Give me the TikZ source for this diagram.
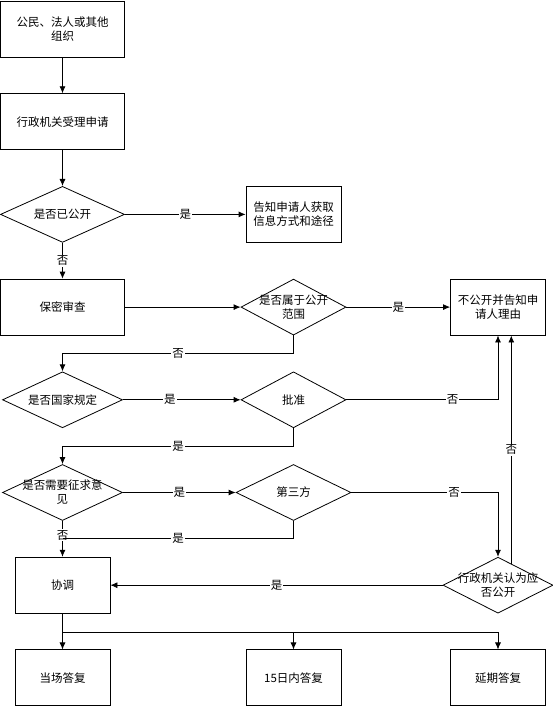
\documentclass[tikz,border=0pt]{standalone}
\usepackage{fontspec}
\newfontfamily\cjk{Noto Sans CJK SC}
\usetikzlibrary{positioning,shapes.geometric,calc,arrows.meta}

\tikzset{
  stepbox/.style={rectangle, draw, minimum width=124pt, minimum height=56pt, align=center},
  smallbox/.style={stepbox, minimum width=95pt},
  decision/.style={diamond, draw, inner sep=0pt, minimum width=#1, minimum height=56pt},
  decision/.default=105pt,
  lbl/.style={fill=white, inner sep=1pt},
  flow/.style={-{Latex[length=7pt,width=6pt]}},
}

\begin{document}
\begin{tikzpicture}[x=1pt, y=1pt, node distance=92.7pt, line width=0.8pt,
  every node/.style={font=\cjk\fontsize{11.5pt}{14pt}\selectfont}]
\useasboundingbox (0,0) rectangle (553,707);

\node (src) [stepbox] at (62.5,678) {公民、法人或其他\\组织};
\node (acc) [stepbox, below of=src] {行政机关受理申请};
\node (open) [decision=124pt, below of=acc, label={[align=center]center:是否已公开}] {};
\node (tell) [smallbox, node distance=231pt, right of=open] {告知申请人获取\\信息方式和途径};

\node (secret) [stepbox, below of=open] {保密审查};
\node (scope) [decision, node distance=231pt, right of=secret, label={[align=center]center:是否属于公开\\范围}] {};
\node (deny) [smallbox, node distance=204.5pt, right of=scope] {不公开并告知申\\请人理由};

\node (state) [decision=120pt, below of=secret, label={[align=center]center:是否国家规定}] {};
\node (approve) [decision, node distance=231pt, right of=state, label={[align=center]center:批准}] {};

\node (consult) [decision=120pt, below of=state, label={[align=center]center:是否需要征求意\\见}] {};
\node (third) [decision=115pt, node distance=231pt, right of=consult, label={[align=center]center:第三方}] {};

\node (coord) [smallbox, below of=consult] {协调};
\node (judge) [decision=110pt, node distance=435.5pt, right of=coord, label={[align=center]center:行政机关认为应\\否公开}] {};

\node (now) [smallbox, below of=coord] {当场答复};
\node (days) [smallbox, node distance=231pt, right of=now] {15日内答复};
\node (delay) [smallbox, node distance=204.5pt, right of=days] {延期答复};

% main line
\draw[flow] (src) -- (acc);
\draw[flow] (acc) -- (open);
\draw[flow] (open) -- node[lbl]{是} (tell);
\draw[flow] (open) -- node[lbl]{否} (secret);
\draw[flow] (secret) -- (scope);
\draw[flow] (scope) -- node[lbl]{是} (deny);
\draw[flow] (scope.south) -- ++(0,-18) -| node[lbl, pos=0.25]{否} (state.north);
\draw[flow] (state) -- node[lbl, pos=0.4]{是} (approve);
\draw[flow] (approve) -| node[lbl, pos=0.35]{否} (deny);
\draw[flow] (approve.south) -- ++(0,-18) -| node[lbl, pos=0.25]{是} (consult.north);
\draw[flow] (consult) -- node[lbl]{是} (third);
\draw[flow] (third) -| node[lbl, pos=0.35]{否} (judge);
\draw[flow] (consult) -- node[lbl, pos=0.4]{否} (coord);

% back from third party
\coordinate (merge) at ($(consult.south)!0.5!(coord.north)$);
\draw (third.south) |- node[lbl, pos=0.75]{是} (merge);

\draw[flow] (judge) -- node[lbl]{是} (coord);
\coordinate (side) at ($(judge.north)!0.24!(judge.east)$);
\draw[flow] (side) -- node[lbl]{否} (side |- deny.south);

% replies
\draw[flow] (coord) -- (now);
\draw[flow] (coord.south) -- ++(0,-19) -| (days);
\draw[flow] (coord.south) -- ++(0,-19) -| (delay);

\end{tikzpicture}
\end{document}
